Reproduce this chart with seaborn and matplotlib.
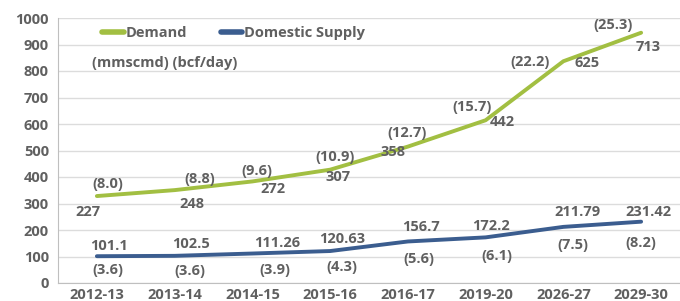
import pandas as pd
import matplotlib.pyplot as plt
import seaborn as sns

# data
years = ['2012-13', '2013-14', '2014-15', '2015-16', '2016-17', '2019-20', '2026-27', '2029-30']
demand_mmscmd = [227, 248, 272, 307, 358, 442, 625, 713]
demand_bcf = ['(8.0)', '(8.8)', '(9.6)', '(10.9)', '(12.7)', '(15.7)', '(22.2)', '(25.3)']
supply_mmscmd = [101.1, 102.5, 111.26, 120.63, 156.7, 172.2, 211.79, 231.42]
supply_labels = ['101.1', '102.5', '111.26', '120.63', '156.7', '172.2', '211.79', '231.42']
supply_bcf = ['(3.6)', '(3.6)', '(3.9)', '(4.3)', '(5.6)', '(6.1)', '(7.5)', '(8.2)']

# the chart is a stacked line chart: demand sits on top of supply
df = pd.DataFrame({'year': years, 'supply': supply_mmscmd, 'demand': demand_mmscmd})
df['demand_stacked'] = df['supply'] + df['demand']
df['x'] = range(len(df))

green = '#a2bf42'
blue = '#3b5d8f'
grey = '#606060'

sns.set_style('white')
plt.rcParams['font.family'] = ['Open Sans', 'DejaVu Sans']

fig = plt.figure(figsize=(6.8, 3.01), dpi=100)
ax = fig.add_axes([58 / 680, 18 / 301, 622 / 680, 265 / 301])

sns.lineplot(data=df, x='x', y='demand_stacked', color=green, lw=2.8, ax=ax, label='Demand')
sns.lineplot(data=df, x='x', y='supply', color=blue, lw=2.8, ax=ax, label='Domestic Supply')

ax.set_xlim(-0.5, 7.5)
ax.set_ylim(0, 1000)
ax.set_yticks(range(0, 1001, 100))
ax.set_xticks(df['x'])
ax.set_xticklabels(years)
ax.set_xlabel('')
ax.set_ylabel('')
ax.grid(axis='y', color='#dcdcdc', lw=1)
ax.set_axisbelow(True)
for s in ['top', 'right']:
    ax.spines[s].set_visible(False)
for s in ['left', 'bottom']:
    ax.spines[s].set_color('#bfbfbf')
ax.tick_params(axis='both', colors=grey, labelsize=10.5, length=3, color='#bfbfbf')
ax.tick_params(axis='x', pad=0.5)
for lab in ax.get_xticklabels() + ax.get_yticklabels():
    lab.set_fontweight('bold')

tk = dict(color=grey, fontsize=10.5, fontweight='bold', ha='center', va='center')

# label offsets in pixels (dx, dy up) from each point
d_top = [(11, 12), (25, 11), (5, 10), (5, 13), (-1, 14), (-14, 13), (-33, -1), (-28, 8)]
d_bot = [(-9, -16), (17, -14), (21, -8), (8, -7), (-15, -5), (17, -2), (24, -2), (7, -14)]
s_top = [(12, 10), (16, 12), (25, 11), (12, 12), (13, 14), (5, 11), (14, 15), (7, 10)]
s_bot = [(11, -14), (15, -15), (22, -16), (12, -16), (11, -18), (11, -19), (9, -18), (0, -21)]

for i in range(len(df)):
    yd = df['demand_stacked'][i]
    ys = df['supply'][i]
    ax.annotate(demand_bcf[i], (i, yd), xytext=d_top[i], textcoords='offset pixels', **tk)
    ax.annotate(str(demand_mmscmd[i]), (i, yd), xytext=d_bot[i], textcoords='offset pixels', **tk)
    ax.annotate(supply_labels[i], (i, ys), xytext=s_top[i], textcoords='offset pixels', **tk)
    ax.annotate(supply_bcf[i], (i, ys), xytext=s_bot[i], textcoords='offset pixels', **tk)

leg = ax.legend(loc='upper left', bbox_to_anchor=(0.05, 1.02), ncol=2, frameon=False,
                handlelength=1.5, handletextpad=0.1, columnspacing=2.3, fontsize=10.5)
for t in leg.get_texts():
    t.set_color(grey)
    t.set_fontweight('bold')
for h in leg.get_lines():
    h.set_linewidth(4)
ax.text(0.055, 0.83, '(mmscmd) (bcf/day)', transform=ax.transAxes, color=grey,
        fontsize=10.5, fontweight='bold', va='center')

fig.savefig('out.png', dpi=100)
